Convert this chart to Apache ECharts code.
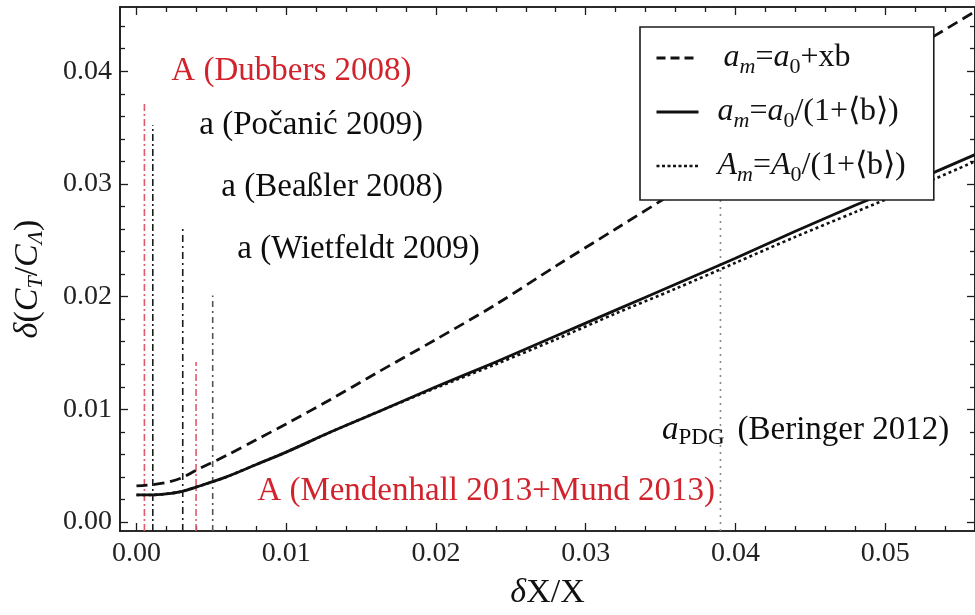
<!DOCTYPE html>
<html>
<head>
<meta charset="utf-8">
<script src="https://cdn.jsdelivr.net/npm/echarts@6/dist/echarts.min.js"></script>
<style>
  html, body { margin: 0; padding: 0; background: #fff; }
  #chart { width: 975px; height: 615px; }
</style>
</head>
<body>
<div id="chart"></div>
<script>
const FONT = 'Liberation Serif';

// Sampled curves: x = δX/X, y = δ(C_T/C_A)
const xGrid = [0, 0.001, 0.002, 0.003, 0.004, 0.006, 0.008, 0.010, 0.013, 0.016,
               0.020, 0.024, 0.028, 0.032, 0.036, 0.040, 0.044, 0.048, 0.052, 0.056];
const linearModel = [0.0032, 0.0033, 0.0035, 0.0039, 0.0046, 0.0059, 0.0073, 0.0087, 0.0109, 0.0132,
                     0.0162, 0.0193, 0.0227, 0.0260, 0.0293, 0.0325, 0.0357, 0.0389, 0.0421, 0.0453];
const ratioModelSmall = [0.0024, 0.0024, 0.0025, 0.0027, 0.0031, 0.0040, 0.0051, 0.0062, 0.0080, 0.0097,
                         0.0120, 0.0142, 0.0165, 0.0188, 0.0211, 0.0234, 0.0258, 0.0281, 0.0303, 0.0326];
const ratioModelCap = [0.0024, 0.0024, 0.0025, 0.0027, 0.0031, 0.0040, 0.0051, 0.0062, 0.0080, 0.0097,
                       0.0119, 0.0140, 0.0162, 0.0185, 0.0207, 0.0230, 0.0253, 0.0275, 0.0297, 0.0320];

// Vertical reference lines: position and upper end
const refX   = [0.00053, 0.00109, 0.00309, 0.00398, 0.00509, 0.0390];
const refTop = [0.0372, 0.0352, 0.0261, 0.0142, 0.0201, 0.0300];
const refColor = ['#df5a6a', '#1a1a1a', '#1a1a1a', '#df5a6a', '#555555', '#8a8a8a'];
const refDash = [[7, 3, 2, 3], [7, 3, 2, 3], [7, 4, 2, 4], [7, 3, 2, 3], [6, 4, 2, 4], [2, 5]];

// Ticks
const xMajor = [0, 0.01, 0.02, 0.03, 0.04, 0.05];
const xMinor = [0.002, 0.004, 0.006, 0.008, 0.012, 0.014, 0.016, 0.018, 0.022, 0.024, 0.026, 0.028,
                0.032, 0.034, 0.036, 0.038, 0.042, 0.044, 0.046, 0.048, 0.052, 0.054];
const yMajor = [0, 0.01, 0.02, 0.03, 0.04];
const yMinor = [0.002, 0.004, 0.006, 0.008, 0.012, 0.014, 0.016, 0.018, 0.022, 0.024, 0.026, 0.028,
                0.032, 0.034, 0.036, 0.038, 0.042, 0.044];

// Annotations: left edge anchor of each text
const noteX = [0.00233, 0.0042, 0.00567, 0.00673, 0.00807, 0.0351];
const noteY = [0.0400, 0.0352, 0.0297, 0.0242, 0.0027, 0.0081];
const noteText = [
  '{n|A (Dubbers 2008)}',
  '{n|a (Počanić 2009)}',
  '{n|a (Beaßler 2008)}',
  '{n|a (Wietfeldt 2009)}',
  '{n|A (Mendenhall 2013+Mund 2013)}',
  '{i|a}{sub|PDG}{gap|(Beringer 2012)}'
];
const noteColor = ['#d2222b', '#0d0d0d', '#0d0d0d', '#0d0d0d', '#d2222b', '#0d0d0d'];

const X_MIN = -0.0011, X_MAX = 0.056;
const Y_MIN = -0.0008, Y_MAX = 0.0457;

const INK = '#1c1c1c';

function xFrame(position, ticks, len, labels) {
  return {
    type: 'value', position, min: X_MIN, max: X_MAX,
    axisLine: { show: true, onZero: false, lineStyle: { color: INK, width: 1.6 } },
    axisTick: { show: true, inside: true, length: len, customValues: ticks, lineStyle: { color: INK, width: 1.3 } },
    axisLabel: labels ? {
      show: true, customValues: ticks, margin: 9, formatter: v => v.toFixed(2),
      fontFamily: FONT, fontSize: 28, color: '#222'
    } : { show: false },
    splitLine: { show: false }
  };
}
function yFrame(position, ticks, len, labels) {
  return {
    type: 'value', position, min: Y_MIN, max: Y_MAX,
    axisLine: { show: true, onZero: false, lineStyle: { color: INK, width: 1.6 } },
    axisTick: { show: true, inside: true, length: len, customValues: ticks, lineStyle: { color: INK, width: 1.3 } },
    axisLabel: labels ? {
      show: true, customValues: ticks, margin: 8, formatter: v => v.toFixed(2),
      fontFamily: FONT, fontSize: 28, color: '#222'
    } : { show: false },
    splitLine: { show: false }
  };
}

const xAxes = [xFrame('bottom', xMajor, 8, true), xFrame('top', xMajor, 8, false),
               xFrame('bottom', xMinor, 5, false), xFrame('top', xMinor, 5, false)];
const yAxes = [yFrame('left', yMajor, 8, true), yFrame('right', yMajor, 8, false),
               yFrame('left', yMinor, 5, false), yFrame('right', yMinor, 5, false)];

xAxes[0].name = '{i|δ}{n|X/X}';
xAxes[0].nameLocation = 'middle';
xAxes[0].nameGap = 45;
xAxes[0].nameTextStyle = {
  rich: {
    i: { fontFamily: FONT, fontStyle: 'italic', fontSize: 34, color: '#111' },
    n: { fontFamily: FONT, fontSize: 34, color: '#111' }
  }
};
yAxes[0].name = '{i|δ}{n|(}{i|C}{s|T}{n|/}{i|C}{s|Λ}{n|)}';
yAxes[0].nameLocation = 'middle';
yAxes[0].nameGap = 73;
yAxes[0].nameTextStyle = {
  padding: [0, 20, 0, 0],
  rich: {
    i: { fontFamily: FONT, fontStyle: 'italic', fontSize: 34, lineHeight: 38, color: '#111' },
    n: { fontFamily: FONT, fontSize: 34, lineHeight: 38, color: '#111' },
    s: { fontFamily: FONT, fontStyle: 'italic', fontSize: 22, lineHeight: 26, verticalAlign: 'bottom', color: '#111' }
  }
};

const pair = (xs, ys) => xs.map((x, i) => [x, ys[i]]);

const refSeries = refX.map((x, i) => ({
  type: 'line', name: 'ref' + i, silent: true, symbol: 'none', z: 1,
  data: [[x, Y_MIN], [x, refTop[i]]],
  lineStyle: { color: refColor[i], width: 1.6, type: refDash[i] }
}));

const legendLabels = {
  linear: '{i0|a}{si|m}{n|=}{i|a}{s0|0}{n|+xb}',
  ratioSmall: '{i|a}{si|m}{n|=}{i|a}{s0|0}{n|/(1+⟨b⟩)}',
  ratioCap: '{i|A}{si|m}{n|=}{i|A}{s0|0}{n|/(1+⟨b⟩)}'
};

const option = {
  animation: false,
  backgroundColor: '#fff',
  grid: { left: 120, top: 7, width: 857, height: 531, containLabel: false },
  xAxis: xAxes,
  yAxis: yAxes,
  legend: {
    orient: 'vertical', left: 640, top: 27,
    data: [
      { name: 'linear', lineStyle: { type: [9, 5], width: 3 } },
      { name: 'ratioSmall', lineStyle: { width: 3 } },
      { name: 'ratioCap', lineStyle: { type: [3, 2.5], width: 2.6 } }
    ],
    backgroundColor: '#fff', borderColor: INK, borderWidth: 1.6, borderRadius: 0,
    padding: [11, 28, 14, 15],
    itemWidth: 42, itemHeight: 14, itemGap: 14,
    selectedMode: false,
    itemStyle: { opacity: 0 },
    formatter: name => legendLabels[name],
    textStyle: {
      fontFamily: FONT, fontSize: 32, color: '#111', lineHeight: 40, padding: [0, 0, 0, 14],
      rich: {
        i0: { fontFamily: FONT, fontStyle: 'italic', fontSize: 32, lineHeight: 40, color: '#111', padding: [0, 0, 0, 6] },
        i: { fontFamily: FONT, fontStyle: 'italic', fontSize: 32, lineHeight: 40, color: '#111' },
        n: { fontFamily: FONT, fontSize: 32, lineHeight: 40, color: '#111' },
        si: { fontFamily: FONT, fontStyle: 'italic', fontSize: 22, lineHeight: 28, verticalAlign: 'bottom', color: '#111' },
        s0: { fontFamily: FONT, fontSize: 22, lineHeight: 28, verticalAlign: 'bottom', color: '#111' }
      }
    }
  },
  series: [
    ...refSeries,
    {
      type: 'line', name: 'linear', data: pair(xGrid, linearModel), smooth: 0.3,
      symbol: 'none', z: 3, color: '#111', lineStyle: { color: '#111', width: 2.8, type: [11, 6] }
    },
    {
      type: 'line', name: 'ratioSmall', data: pair(xGrid, ratioModelSmall), smooth: 0.3,
      symbol: 'none', z: 3, color: '#111', lineStyle: { color: '#111', width: 2.8, type: 'solid' }
    },
    {
      type: 'line', name: 'ratioCap', data: pair(xGrid, ratioModelCap), smooth: 0.3,
      symbol: 'none', z: 3, color: '#111', lineStyle: { color: '#111', width: 2.6, type: [3, 3] }
    },
    {
      type: 'scatter', name: 'notes', silent: true, symbolSize: 0, z: 5,
      itemStyle: { opacity: 1 },
      data: noteX.map((x, i) => ({
        value: [x, noteY[i]],
        label: { color: noteColor[i] }
      })),
      label: {
        show: true, position: 'right', distance: 0, opacity: 1,
        formatter: p => noteText[p.dataIndex],
        rich: {
          n: { fontFamily: FONT, fontSize: 33, lineHeight: 38 },
          i: { fontFamily: FONT, fontStyle: 'italic', fontSize: 33, lineHeight: 38 },
          sub: { fontFamily: FONT, fontSize: 23, lineHeight: 28, verticalAlign: 'bottom' },
          gap: { fontFamily: FONT, fontSize: 33, lineHeight: 38, padding: [0, 0, 0, 13] }
        }
      }
    }
  ]
};

const chart = echarts.init(document.getElementById('chart'), null, { renderer: 'canvas' });
chart.setOption(option);
</script>
</body>
</html>
